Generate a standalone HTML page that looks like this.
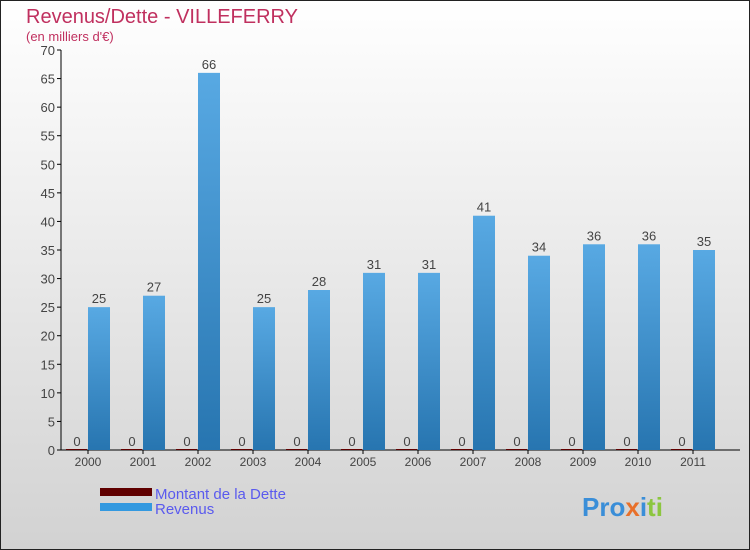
<!DOCTYPE html>
<html><head><meta charset="utf-8"><style>
body{margin:0;}
#c{width:750px;height:550px;position:relative;overflow:hidden;font-family:"Liberation Sans",sans-serif;}
</style></head><body>
<div id="c">
<svg width="750" height="550" xmlns="http://www.w3.org/2000/svg" id="svg">
<defs>
<linearGradient id="bg" x1="0" y1="0" x2="0" y2="1"><stop offset="0" stop-color="#ffffff"/><stop offset="1" stop-color="#d2d2d2"/></linearGradient>
<linearGradient id="rev" x1="0" y1="0" x2="0" y2="1"><stop offset="0" stop-color="#58a9e3"/><stop offset="1" stop-color="#2775b0"/></linearGradient>
</defs>
<rect x="0.5" y="0.5" width="749" height="549" fill="url(#bg)" stroke="#222"/>
<text x="26" y="23" font-size="20" fill="#c0305f">Revenus/Dette - VILLEFERRY</text>
<text x="26" y="41" font-size="13" fill="#c0305f">(en milliers d'€)</text>
<g id="plot"></g>
<rect x="100" y="488" width="52" height="8" fill="#600000"/>
<text x="155" y="499" font-size="15" fill="#5a5aee">Montant de la Dette</text>
<rect x="100" y="503" width="52" height="8" fill="#3399e0"/>
<text x="155" y="514" font-size="15" fill="#5a5aee">Revenus</text>
<text x="582" y="516" font-size="26" font-weight="bold"><tspan fill="#3a8ed8">Pro</tspan><tspan fill="#e8702a">x</tspan><tspan fill="#3a8ed8">i</tspan><tspan fill="#8cc63f">ti</tspan></text>
</svg>
</div>
<script>
const categories=["2000","2001","2002","2003","2004","2005","2006","2007","2008","2009","2010","2011"];
const revenus=[25,27,66,25,28,31,31,41,34,36,36,35];
const dette=[0,0,0,0,0,0,0,0,0,0,0,0];
const yTicks=[0,5,10,15,20,25,30,35,40,45,50,55,60,65,70];
const NS="http://www.w3.org/2000/svg";
const g=document.getElementById("plot");
const y0=450,yTop=50,yMax=70;
function y(v){return y0-(v/yMax)*(y0-yTop);}
function x(i){return 88+i*55;}
function el(t,a){const e=document.createElementNS(NS,t);for(const k in a)e.setAttribute(k,a[k]);g.appendChild(e);return e;}
let ax=el("line",{x1:61,y1:yTop,x2:61,y2:y0,stroke:"#000"});


let bx=el("line",{x1:61,y1:y0,x2:740,y2:y0,stroke:"#000"});


yTicks.forEach(v=>{
 let t=el("line",{x1:57,y1:y(v),x2:61,y2:y(v),stroke:"#000"});
 
 
 let l=el("text",{x:55,y:y(v)+5,"font-size":13,fill:"#444","text-anchor":"end"});
 l.textContent=v;
 
 
});
categories.forEach((c,i)=>{
 let t=el("line",{x1:x(i),y1:y0,x2:x(i),y2:y0+4,stroke:"#000"});
 
 
 let l=el("text",{x:x(i),y:y0+16,"font-size":12,fill:"#444","text-anchor":"middle"});
 l.textContent=c;
 
 
 let d=el("rect",{x:x(i)-22,y:y(dette[i])-1,width:21,height:Math.max(1,y0-y(dette[i])),fill:"#600000"});
 
 
 let dl=el("text",{x:x(i)-11,y:y(dette[i])-4,"font-size":13,fill:"#444","text-anchor":"middle"});
 dl.textContent=dette[i];
 
 
 let r=el("rect",{x:x(i),y:y(revenus[i]),width:22,height:y0-y(revenus[i]),fill:"url(#rev)"});
 
 
 let rl=el("text",{x:x(i)+11,y:y(revenus[i])-4,"font-size":13,fill:"#444","text-anchor":"middle"});
 rl.textContent=revenus[i];
 
 
});
</script>
</body></html>
